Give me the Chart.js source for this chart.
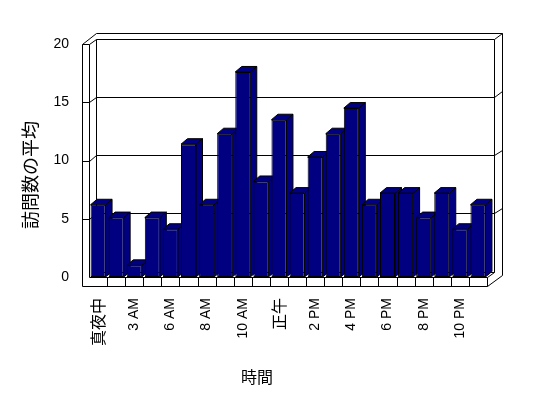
<!DOCTYPE html>
<html>
<head>
<meta charset="utf-8">
<script src="https://cdn.jsdelivr.net/npm/chart.js@4.4.0/dist/chart.umd.min.js"></script>
<style>
  html, body { margin: 0; padding: 0; background: #fff; }
  #wrap { width: 548px; height: 398px; }
</style>
</head>
<body>
<div id="wrap"><canvas id="chart" width="548" height="398"></canvas></div>
<script>
// hours shown on the category axis (only every other one gets a label)
const hourLabels = ['真夜中', '1 AM', '3 AM', '5 AM', '6 AM', '7 AM', '8 AM', '9 AM', '10 AM', '11 AM',
  '正午', '1 PM', '2 PM', '3 PM', '4 PM', '5 PM', '6 PM', '7 PM', '8 PM', '9 PM', '10 PM', '11 PM'];
const avgVisits = [6.2, 5.1, 1.0, 5.1, 4.1, 11.4, 6.2, 12.3, 17.6, 8.2, 13.5,
  7.2, 10.3, 12.3, 14.5, 6.2, 7.2, 7.2, 5.1, 7.2, 4.1, 6.2];
const yTicks = [0, 5, 10, 15, 20];
const xTitle = '時間';
const yTitle = '訪問数の平均';

const BAR = '#000080';
const CJK = '"Noto Sans CJK JP", sans-serif';
const LATIN = '"Liberation Sans", "Noto Sans CJK JP", sans-serif';

// depth of the fake 3d
const wallDx = 7.4, wallDy = -5.5;
const barDx = 6.5, barDy = -5.5;
const wallThick = 7.5, floorThick = 9;

const px = v => Math.round(v) + 0.5;

const frame3d = {
  id: 'frame3d',
  beforeDatasetsDraw(chart) {
    const ctx = chart.ctx;
    const xs = chart.scales.x, ys = chart.scales.y;
    const L = chart.chartArea.left, R = chart.chartArea.right;
    const B = ys.getPixelForValue(yTicks[0]);
    const T = ys.getPixelForValue(yTicks[yTicks.length - 1]);
    const dx = wallDx, dy = wallDy, wt = wallThick, ft = floorThick;

    ctx.save();
    ctx.strokeStyle = '#000';
    ctx.lineWidth = 1;
    const line = pts => {
      ctx.beginPath();
      pts.forEach((p, i) => i ? ctx.lineTo(px(p[0]), px(p[1])) : ctx.moveTo(px(p[0]), px(p[1])));
      ctx.stroke();
    };

    // walls
    line([[L - wt, T], [L - wt, B + ft]]);
    line([[L, T], [L, B]]);
    line([[L + dx, T + dy], [L + dx, B + dy]]);
    line([[R + dx, T + dy], [R + dx, B + dy]]);
    line([[L - wt, T], [L - wt + 2 * dx, T + 2 * dy], [R + 2 * dx, T + 2 * dy], [R + 2 * dx, B + ft + 2 * dy], [R, B + ft]]);

    // gridlines run round the left wall, back wall and right edge
    yTicks.forEach(v => {
      const y = ys.getPixelForValue(v);
      if (v === 0) {
        line([[L + dx, y + dy], [R + dx, y + dy]]);
        return;
      }
      line([[L - wt, y], [L, y], [L + dx, y + dy], [R + dx, y + dy], [R + 2 * dx, y + 2 * dy]]);
    });

    // floor
    line([[L, B], [R, B], [R + dx, B + dy]]);
    line([[L - wt, B + ft], [R, B + ft]]);
    line([[R, B], [R, B + ft]]);
    const step = (R - L) / hourLabels.length;
    hourLabels.forEach((_, i) => {
      if (i === hourLabels.length - 1) return;
      const xb = xs.getPixelForValue(i) + step / 2;
      line([[xb, B], [xb, B + ft]]);
    });

    // bar tops and sides, front faces come from chart.js afterwards
    const meta = chart.getDatasetMeta(0);
    ctx.fillStyle = BAR;
    meta.data.forEach(bar => {
      const p = bar.getProps(['x', 'y', 'base', 'width'], true);
      const l = p.x - p.width / 2, r = p.x + p.width / 2;
      const top = p.y, base = p.base;
      ctx.beginPath();
      ctx.moveTo(r, top);
      ctx.lineTo(r + barDx, top + barDy);
      ctx.lineTo(r + barDx, base + barDy);
      ctx.lineTo(r, base);
      ctx.closePath();
      ctx.fill();
      ctx.stroke();
      ctx.beginPath();
      ctx.moveTo(l, top);
      ctx.lineTo(l + barDx, top + barDy);
      ctx.lineTo(r + barDx, top + barDy);
      ctx.lineTo(r, top);
      ctx.closePath();
      ctx.fill();
      ctx.stroke();
    });
    ctx.restore();
  },
  afterDraw(chart) {
    const ctx = chart.ctx;
    ctx.save();
    ctx.fillStyle = '#000';
    ctx.textAlign = 'center';
    ctx.textBaseline = 'middle';
    ctx.font = '16px ' + CJK;
    ctx.fillText(xTitle, 257, 377);
    ctx.translate(30, 175);
    ctx.rotate(-Math.PI / 2);
    ctx.font = '18px ' + CJK;
    ctx.fillText(yTitle, 0, 0);
    ctx.restore();
  }
};

new Chart(document.getElementById('chart'), {
  type: 'bar',
  data: {
    labels: hourLabels,
    datasets: [{
      data: avgVisits,
      backgroundColor: BAR,
      borderColor: '#000',
      borderWidth: 1,
      borderSkipped: false,
      barPercentage: 0.83,
      categoryPercentage: 1.0
    }]
  },
  options: {
    responsive: false,
    animation: false,
    devicePixelRatio: 1,
    layout: { padding: { top: 44, right: 61, bottom: 0, left: 0 } },
    plugins: { legend: { display: false }, tooltip: { enabled: false } },
    scales: {
      x: {
        grid: { display: false, drawTicks: false },
        border: { display: false },
        ticks: {
          autoSkip: false,
          minRotation: 90,
          maxRotation: 90,
          padding: 21,
          color: '#000',
          font: c => /[^\x00-\x7f]/.test(hourLabels[c.index] || '') ? { family: CJK, size: 16 } : { family: LATIN, size: 14 },
          callback: (v, i) => i % 2 === 0 ? hourLabels[i] : ''
        },
        afterFit: s => { s.height = 121; }
      },
      y: {
        min: 0,
        max: 20,
        grid: { display: false, drawTicks: false },
        border: { display: false },
        ticks: { stepSize: 5, padding: 20, color: '#000', font: { family: LATIN, size: 14 } },
        afterFit: s => { s.width = 89; }
      }
    }
  },
  plugins: [frame3d]
});
</script>
</body>
</html>
